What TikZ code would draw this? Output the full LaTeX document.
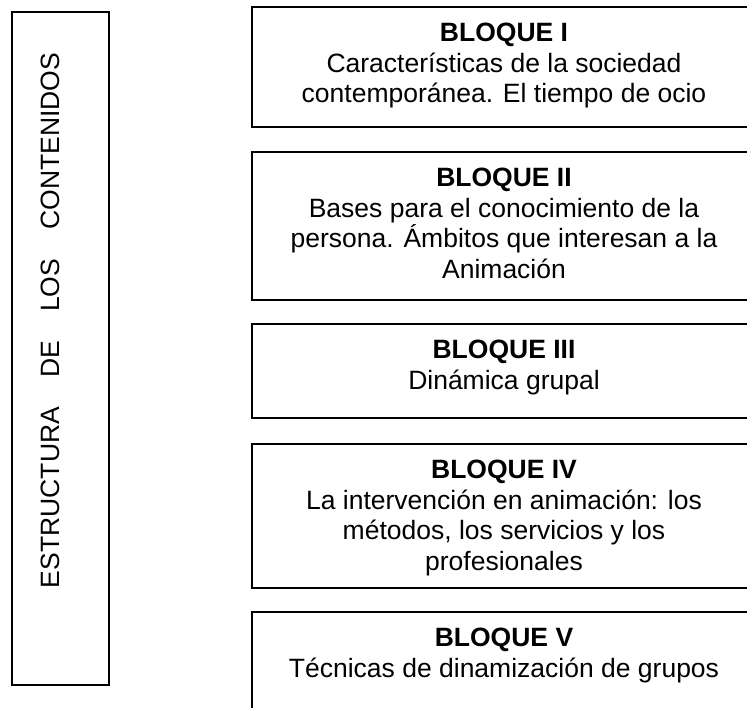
\documentclass[tikz,border=0pt]{standalone}
\usepackage{fontspec}
\setmainfont{Liberation Sans}
\usetikzlibrary{positioning}
\tikzset{
	caja/.style={draw, line width=1.5pt, rectangle, minimum width=504pt, inner sep=0pt},
	texto/.style={align=center, inner sep=0pt, font=\fontsize{26.5}{30.5}\selectfont},
}
\begin{document}
\begin{tikzpicture}[x=1pt,y=-1pt]
		\clip (0,0) rectangle (747,707);
		\useasboundingbox (0,0) rectangle (747,707);
		\node[caja, minimum width=97pt, minimum height=673pt] (marco) at (60.5,348.5) {};
		\node[texto, rotate=90, anchor=base] (titulo) at (59,320.5) {\makebox[535pt][s]{ESTRUCTURA DE LOS CONTENIDOS}};
		\node[caja, minimum height=120pt] (b1) at (504,67) {};
		\node[caja, minimum height=148pt] (b2) at (504,226) {};
		\node[caja, minimum height=94pt] (b3) at (504,371) {};
		\node[caja, minimum height=144pt] (b4) at (504,516) {};
		\node[caja, minimum height=128pt] (b5) at (504,676) {};
		\node[texto, below=17pt of b1.north] (t1) {\textbf{BLOQUE I}\\Características de la sociedad\\contemporánea. El tiempo de ocio};
		\node[texto, below=17pt of b2.north] (t2) {\textbf{BLOQUE II}\\Bases para el conocimiento de la\\persona. Ámbitos que interesan a la\\Animación};
		\node[texto, below=17pt of b3.north] (t3) {\textbf{BLOQUE III}\\Dinámica grupal};
		\node[texto, below=17pt of b4.north] (t4) {\textbf{BLOQUE IV}\\La intervención en animación: los\\métodos, los servicios y los\\profesionales};
		\node[texto, below=17pt of b5.north] (t5) {\textbf{BLOQUE V}\\Técnicas de dinamización de grupos};
\end{tikzpicture}
\end{document}
